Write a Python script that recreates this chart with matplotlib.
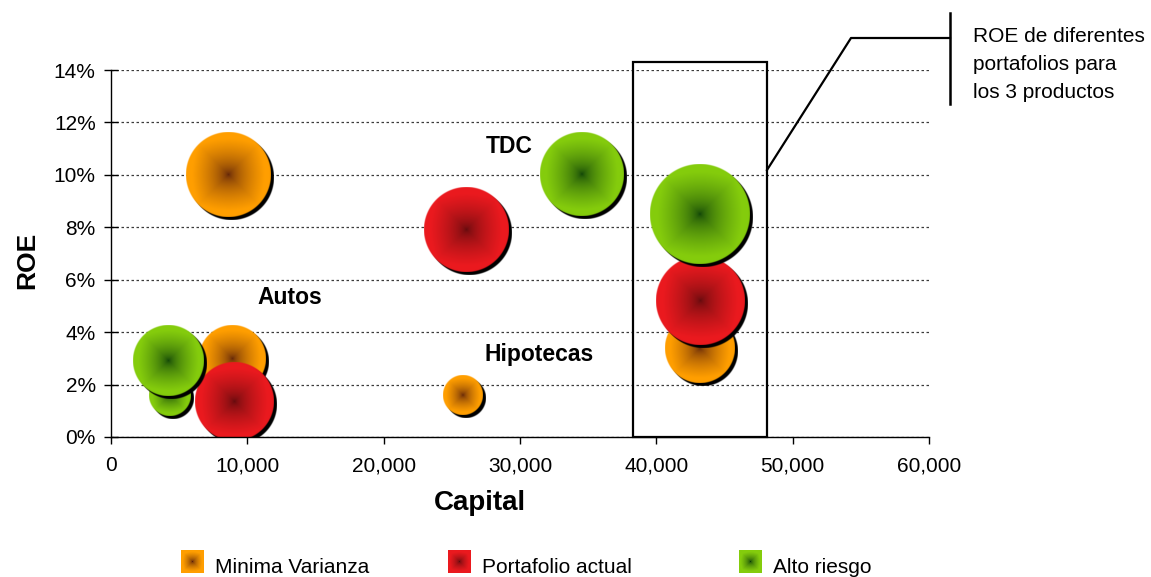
"""Bubble chart: ROE vs capital for three portfolio strategies."""

import matplotlib

matplotlib.use("Agg")
import matplotlib.pyplot as plt
import numpy as np
from matplotlib.lines import Line2D
from matplotlib.patches import Rectangle
from matplotlib.ticker import FuncFormatter, PercentFormatter

plt.rcParams["font.family"] = ["Liberation Sans", "DejaVu Sans"]

# Capital, ROE and bubble size per product, one set of lists per portfolio
series_names = ["Minima Varianza", "Portafolio actual", "Alto riesgo"]

minvar_capital = [8600, 8900, 25800, 43200]
minvar_roe = [0.100, 0.030, 0.016, 0.034]
minvar_size = [71, 44, 16, 48]

actual_capital = [26100, 9000, 43200]
actual_roe = [0.079, 0.0135, 0.052]
actual_size = [72, 61, 79]

alto_capital = [34500, 4300, 4200, 43200]
alto_roe = [0.100, 0.016, 0.029, 0.085]
alto_size = [69, 17, 50, 100]

product_labels = ["TDC", "Autos", "Hipotecas"]
x_ticks = [0, 10000, 20000, 30000, 40000, 50000, 60000]
y_ticks = [0.0, 0.02, 0.04, 0.06, 0.08, 0.10, 0.12, 0.14]

# (edge colour, centre colour) of the radial fill
palette = [
    ((1.00, 0.62, 0.00), (0.35, 0.12, 0.04)),
    ((0.92, 0.10, 0.12), (0.36, 0.04, 0.05)),
    ((0.52, 0.80, 0.05), (0.04, 0.24, 0.03)),
]

W, H, DPI = 1151, 577, 100
MAX_RADIUS_PX = 50.0
SHADOW_PX = 3


def fig_xy(x_px, y_px):
    """Pixel position (from top-left) to figure fraction."""
    return x_px / W, 1 - y_px / H


def gradient_rgba(radius_px, edge, core, square=False, ss=3):
    n = max(int(np.ceil(2 * radius_px * ss)), 4)
    c = (np.arange(n) + 0.5) / n * 2 - 1
    u, v = np.meshgrid(c, c)
    r = np.hypot(u, v)
    t = 0.5 * np.maximum(np.abs(u), np.abs(v)) + 0.5 * r
    f = np.clip(t / 0.85, 0, 1) ** 0.55
    edge, core = np.asarray(edge), np.asarray(core)
    rgb = core + (edge - core) * f[..., None]
    if square:
        alpha = np.ones_like(r)
    else:
        alpha = np.clip((1 - r) * radius_px + 0.5, 0, 1)
    return np.dstack([rgb, alpha])


def draw_bubble(ax, x, y, radius_px, edge, core, zorder):
    cx, cy = ax.transData.transform((x, y))
    inv = ax.transData.inverted()

    img = gradient_rgba(radius_px, edge, core)
    shadow = img.copy()
    shadow[..., :3] = 0.0

    for data, dx, dy, z in ((shadow, SHADOW_PX, -SHADOW_PX, zorder),
                            (img, 0, 0, zorder + 0.5)):
        (x0, y0) = inv.transform((cx + dx - radius_px, cy + dy - radius_px))
        (x1, y1) = inv.transform((cx + dx + radius_px, cy + dy + radius_px))
        ax.imshow(data, extent=[x0, x1, y0, y1], aspect="auto",
                  interpolation="antialiased", zorder=z)


fig = plt.figure(figsize=(W / DPI, H / DPI), dpi=DPI)
ax = fig.add_axes([111 / W, 1 - 437 / H, 818 / W, 367 / H])
ax.set_xlim(0, 60000)
ax.set_ylim(0, 0.14)

series = [
    (minvar_capital, minvar_roe, minvar_size),
    (actual_capital, actual_roe, actual_size),
    (alto_capital, alto_roe, alto_size),
]
max_size = max(max(s) for _, _, s in series)

z = 3
for (caps, roes, sizes), (edge, core) in zip(series, palette):
    for x, y, s in zip(caps, roes, sizes):
        r_px = MAX_RADIUS_PX * np.sqrt(s / max_size)
        draw_bubble(ax, x, y, r_px, edge, core, z)
        z += 1

ax.set_xlim(0, 60000)
ax.set_ylim(0, 0.14)

# axes styling
ax.set_xticks(x_ticks)
ax.set_yticks(y_ticks)
ax.xaxis.set_major_formatter(FuncFormatter(lambda v, _: f"{v:,.0f}"))
ax.yaxis.set_major_formatter(PercentFormatter(1.0, decimals=0))
ax.tick_params(axis="x", direction="out", length=5, width=1, pad=9,
               labelsize=15, colors="black")
ax.tick_params(axis="y", direction="inout", length=10, width=1, pad=6,
               labelsize=15, colors="black")
for side in ("top", "right"):
    ax.spines[side].set_visible(False)
for side in ("left", "bottom"):
    ax.spines[side].set_linewidth(1.0)
    ax.spines[side].set_color("black")
    ax.spines[side].set_zorder(30)

ax.set_axisbelow(True)
ax.yaxis.grid(True, linestyle=(0, (2, 2)), color="#3a3a3a", linewidth=0.9)

ax.set_xlabel("Capital", fontsize=20, fontweight="bold")
ax.xaxis.set_label_coords((480 - 111) / 818, (437 - 503) / 367)
ax.xaxis.label.set_va("center")
ax.set_ylabel("ROE", fontsize=19, fontweight="bold")
ax.yaxis.set_label_coords((27 - 111) / 818, (437 - 260) / 367)
ax.yaxis.label.set_va("center")

# product group labels
for text, (lx, ly) in zip(product_labels,
                          [(29200, 0.111), (13100, 0.0534), (31400, 0.0313)]):
    ax.text(lx, ly, text, fontsize=16.5, fontweight="bold",
            ha="center", va="center", zorder=40)

# frame around the total-portfolio bubbles and its callout
ax.add_patch(Rectangle((38300, 0.0), 9800, 0.1431, fill=False,
                       edgecolor="black", linewidth=1.6, clip_on=False,
                       zorder=35))
callout = [(767, 170), (851, 38), (950, 38)]
fig.add_artist(Line2D([fig_xy(*p)[0] for p in callout],
                      [fig_xy(*p)[1] for p in callout],
                      transform=fig.transFigure, color="black", linewidth=1.6))
fig.add_artist(Line2D([fig_xy(950, 13)[0], fig_xy(950, 104)[0]],
                      [fig_xy(950, 13)[1], fig_xy(950, 104)[1]],
                      transform=fig.transFigure, color="black", linewidth=1.8))
for i, line in enumerate(["ROE de diferentes", "portafolios para",
                          "los 3 productos"]):
    fig.text(*fig_xy(973, 42 + 28 * i), line, fontsize=15,
             ha="left", va="baseline")

# legend with gradient swatches
for name, (edge, core), x_px in zip(series_names, palette, [181, 448, 739]):
    swatch = gradient_rgba(11.5, edge, core, square=True, ss=1)
    fig.figimage(swatch, xo=x_px, yo=H - 573, zorder=5)
    fig.text(*fig_xy(x_px + 34, 573), name, fontsize=15,
             ha="left", va="baseline")

fig.savefig("out.png", dpi=DPI)
plt.close(fig)
